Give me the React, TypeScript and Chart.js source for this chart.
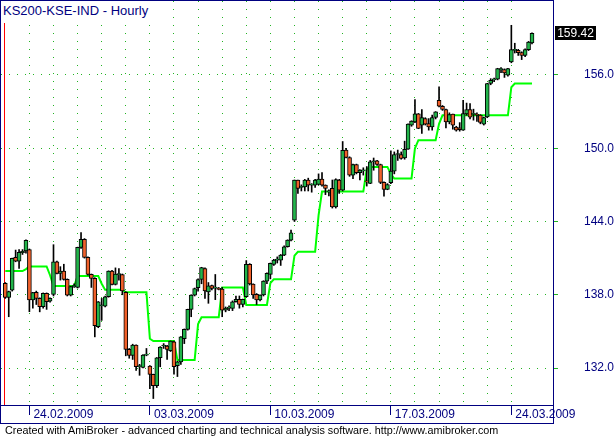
import React, { useEffect, useRef } from 'react';
import { Chart, registerables } from 'chart.js';

Chart.register(...registerables);

const titleText = 'KS200-KSE-IND - Hourly';
const footerText = 'Created with AmiBroker - advanced charting and technical analysis software. http://www.amibroker.com';

const opens = [
  138.93, 137.78, 138.38, 141.06, 140.76, 141.45, 141.58, 141.71, 137.57, 138.19,
  137.7, 137.02, 138.11, 137.48, 138.03, 140.7, 139.75, 139.94, 139.26, 137.97,
  138.66, 138.6, 141.88, 142.53, 141.06, 139.67, 139.34, 135.38, 137.1, 137.07,
  137.84, 139.93, 138.84, 139.65, 139.66, 138.19, 133.52, 133.03, 133.88, 132.1,
  132.05, 133.06, 132.16, 131.48, 130.55, 132.84, 133.8, 133.8, 133.41, 134.15,
  132.2, 132.5, 134.4, 135.16, 136.8, 137.97, 138.57, 139.25, 140.15, 138.24,
  138.76, 138.54, 138.5, 138.46, 136.74, 136.9, 136.89, 137.43, 137.62, 137.21,
  137.84, 140.49, 138.88, 138.03, 137.57, 137.98, 139.12, 139.67, 140.49, 140.84,
  140.84, 141.25, 141.93, 142.48, 144.11, 147.39, 146.8, 146.84, 147.39, 146.98,
  146.98, 147.03, 147.47, 146.98, 146.43, 146.71, 145.2, 147.4, 146.57, 149.84,
  149.24, 147.8, 148.67, 147.99, 148.15, 147.3, 147.12, 148.89, 148.96, 148.67,
  147.2, 146.62, 147.17, 148.12, 149.49, 149.49, 149.2, 149.92, 151.89, 152.16,
  152.82, 151.89, 152.43, 152.02, 151.75, 152.52, 153.93, 153.44, 153.17, 152.16,
  152.79, 151.73, 151.67, 151.48, 152.81, 153.17, 152.78, 152.72, 152.71, 151.97,
  152.57, 155.3, 155.6, 155.65, 156.44, 156.44, 155.98, 157.07, 158.02, 158.02,
  157.83, 157.61, 158.08, 158.62,
];

const highs = [
  139.0, 138.3, 141.0, 141.66, 141.7, 141.7, 142.5, 141.75, 138.2, 138.3,
  137.75, 138.15, 138.15, 137.75, 142.1, 140.75, 140.3, 140.5, 139.3, 138.7,
  138.9, 141.9, 143.1, 142.6, 141.1, 139.7, 139.4, 137.45, 137.7, 137.9,
  139.96, 140.0, 140.2, 140.15, 139.7, 138.25, 133.6, 133.95, 133.9, 132.3,
  133.1, 133.6, 132.2, 131.5, 132.86, 133.75, 134.0, 133.85, 134.22, 134.2,
  132.55, 134.58, 135.2, 136.82, 138.0, 138.55, 139.3, 140.25, 140.2, 139.0,
  138.8, 139.66, 138.6, 138.6, 137.0, 137.1, 137.5, 137.9, 137.9, 137.65,
  140.8, 140.55, 138.9, 138.1, 138.0, 139.15, 139.8, 140.6, 140.9, 141.1,
  141.3, 142.0, 142.5, 143.3, 147.4, 147.4, 147.0, 147.45, 147.55, 147.1,
  147.45, 147.9, 148.0, 147.0, 146.6, 147.4, 147.5, 147.45, 150.55, 150.0,
  149.3, 148.7, 148.7, 148.25, 148.4, 148.5, 149.0, 149.2, 149.0, 148.7,
  147.25, 147.1, 149.79, 149.7, 149.85, 149.7, 150.58, 152.0, 152.25, 153.99,
  152.85, 153.17, 152.5, 152.43, 152.71, 153.0, 155.03, 153.5, 153.2, 152.9,
  152.8, 151.8, 152.1, 153.93, 153.7, 153.66, 153.2, 152.9, 152.75, 152.55,
  155.32, 155.7, 155.75, 156.55, 156.6, 156.5, 156.55, 160.07, 158.6, 158.1,
  157.9, 158.15, 158.75, 159.45,
];

const lows = [
  137.7, 136.2, 138.3, 140.7, 140.16, 141.3, 141.4, 136.61, 136.9, 137.2,
  136.6, 136.9, 136.8, 137.4, 137.9, 139.7, 139.2, 139.2, 137.9, 137.9,
  138.6, 138.55, 141.8, 141.0, 139.6, 138.6, 134.55, 135.3, 135.9, 137.0,
  137.8, 138.8, 138.8, 139.2, 138.0, 133.0, 132.8, 132.7, 131.8, 131.4,
  132.0, 133.0, 130.3, 129.5, 130.4, 132.1, 133.6, 132.7, 133.35, 131.5,
  131.3, 132.3, 134.0, 135.1, 136.2, 137.9, 138.3, 138.9, 137.7, 137.3,
  138.4, 137.6, 138.4, 136.2, 136.6, 136.7, 136.7, 137.4, 136.9, 137.0,
  137.8, 138.8, 137.7, 137.2, 137.5, 137.9, 138.9, 139.3, 140.4, 140.6,
  140.4, 141.2, 141.9, 142.4, 144.0, 146.3, 146.5, 146.5, 146.5, 146.4,
  146.8, 147.0, 146.9, 146.2, 146.1, 145.1, 145.1, 146.3, 146.5, 149.2,
  147.7, 147.5, 147.9, 147.4, 147.8, 146.9, 147.1, 148.2, 148.6, 147.1,
  146.08, 146.6, 147.1, 147.9, 149.0, 149.1, 149.1, 149.9, 151.8, 152.1,
  151.6, 151.21, 151.9, 151.48, 151.48, 152.4, 153.39, 153.1, 151.67, 152.0,
  151.56, 151.4, 151.4, 151.45, 152.7, 152.4, 152.3, 152.2, 152.0, 151.9,
  152.5, 155.2, 155.45, 155.6, 156.2, 155.8, 155.9, 157.0, 157.8, 157.6,
  157.26, 157.5, 158.0, 158.55,
];

const closes = [
  137.78, 138.25, 140.98, 140.76, 141.47, 141.55, 142.45, 137.57, 138.17, 137.7,
  137.02, 138.11, 137.43, 137.7, 140.7, 139.75, 139.94, 139.26, 137.97, 138.66,
  138.7, 141.88, 142.53, 141.06, 139.67, 139.34, 135.47, 137.43, 137.12, 137.84,
  139.94, 138.84, 139.69, 139.68, 138.32, 133.52, 133.03, 133.88, 132.1, 132.2,
  133.06, 133.1, 131.48, 130.55, 132.84, 133.71, 133.82, 133.52, 134.2, 132.1,
  132.5, 134.56, 135.16, 136.8, 137.97, 138.5, 139.25, 140.23, 138.32, 138.73,
  138.51, 138.55, 138.44, 136.74, 136.9, 136.95, 137.43, 137.62, 137.21, 137.62,
  140.49, 138.88, 137.98, 137.57, 137.98, 139.12, 139.75, 140.57, 140.84, 140.86,
  141.25, 141.93, 142.48, 143.08, 147.39, 146.71, 146.82, 147.39, 146.98, 146.99,
  147.39, 147.47, 146.98, 146.71, 146.45, 145.2, 147.43, 146.57, 149.83, 149.24,
  147.8, 148.67, 147.99, 148.21, 148.17, 147.25, 148.89, 148.91, 148.67, 147.2,
  146.62, 147.03, 148.12, 149.49, 149.5, 149.16, 149.92, 151.97, 152.22, 152.82,
  151.62, 152.52, 151.98, 151.75, 152.52, 152.98, 153.44, 153.17, 152.16, 152.76,
  151.89, 151.48, 151.53, 152.84, 153.17, 152.54, 152.8, 152.7, 152.11, 152.51,
  155.3, 155.57, 155.62, 156.52, 156.46, 156.17, 156.52, 158.08, 158.05, 157.83,
  157.61, 158.08, 158.7, 159.42,
];

const stopLine = [
  139.94, 139.94, 139.94, 139.94, 139.94, 139.94, 140.1, 140.32, 140.32, 140.32,
  140.32, 140.32, 140.32, 139.6, 138.71, 138.71, 138.71, 138.71, 138.71, 138.71,
  138.71, 139.53, 139.53, 139.53, 139.53, 139.53, 139.53, 139.53, 138.9, 138.4,
  138.4, 138.4, 138.4, 138.4, 138.4, 138.2, 138.2, 138.2, 138.2, 138.2,
  138.2, 138.2, 134.4, 134.21, 134.21, 134.21, 134.21, 134.21, 134.21, 134.21,
  132.65, 132.65, 132.65, 132.65, 132.65, 132.65, 135.6, 136.15, 136.15, 136.15,
  136.15, 136.15, 136.15, 138.6, 138.6, 138.6, 138.6, 138.6, 138.6, 138.6,
  137.16, 137.16, 137.16, 137.16, 137.16, 137.16, 137.16, 138.95, 139.26, 139.26,
  139.26, 139.26, 139.26, 139.26, 141.2, 141.52, 141.52, 141.52, 141.52, 141.52,
  141.52, 144.5, 146.45, 146.45, 146.45, 146.45, 146.45, 146.45, 146.45, 146.45,
  146.45, 146.45, 146.45, 146.45, 146.45, 148.3, 148.47, 148.47, 148.47, 148.47,
  148.47, 148.47, 147.9, 147.52, 147.52, 147.52, 147.52, 147.52, 147.52, 150.0,
  150.66, 150.66, 150.66, 150.66, 150.66, 150.66, 152.0, 152.7, 152.7, 152.7,
  152.7, 152.7, 152.7, 152.7, 152.7, 152.7, 152.7, 152.7, 152.7, 152.7,
  152.7, 152.7, 152.7, 152.7, 152.7, 152.7, 152.7, 155.0, 155.3, 155.3,
  155.3, 155.3, 155.3, 155.3,
];

const priceTicks = [132, 138, 144, 150, 156];
const dayStartBars = [7, 14, 21, 28, 35, 42, 49, 56, 63, 70, 77, 84, 91, 98, 105, 112, 119, 126, 133, 140, 147];
const dateTickBars = [7, 42, 77, 112, 147];
const dateTickLabels = ['24.02.2009', '03.03.2009', '10.03.2009', '17.03.2009', '24.03.2009'];

const NAVY = '#000080';
const GRID = '#22b422';
const UP = '#22b44a';
const DOWN = '#f0602a';
const LINE = '#00ff00';
const FONT = '"Liberation Sans", Arial, sans-serif';

const framePlugin = {
  id: 'amiFrame',
  beforeDatasetsDraw(chart: any) {
    const { ctx, chartArea: a, scales } = chart;
    ctx.save();
    const xr = Math.round(scales.x.getPixelForValue(0)) - 1;
    ctx.fillStyle = '#ff0000';
    ctx.fillRect(xr, a.top, 1, a.bottom - a.top);
    ctx.restore();
  },
  afterDraw(chart: any) {
    const { ctx, chartArea: a, scales } = chart;
    ctx.save();
    const right = Math.round(a.right);
    const bottom = Math.round(a.bottom);
    const axisBottom = Math.round(scales.x.bottom);
    ctx.fillStyle = NAVY;
    ctx.fillRect(0, 0, 1, axisBottom + 1);
    ctx.fillRect(0, 0, right + 1, 1);
    ctx.fillRect(right, 0, 1, axisBottom + 1);
    ctx.fillRect(0, bottom, right + 1, 1);
    ctx.fillRect(0, axisBottom, right + 1, 1);
    const last = closes[closes.length - 1];
    const py = Math.round(scales.y.getPixelForValue(last));
    ctx.fillStyle = '#000000';
    ctx.fillRect(right + 2, py - 7, 41, 14);
    ctx.fillStyle = '#ffffff';
    ctx.font = '12px ' + FONT;
    ctx.textAlign = 'center';
    ctx.textBaseline = 'middle';
    ctx.fillText(last.toFixed(2), right + 2 + 20.5, py + 0.5);
    ctx.restore();
  },
};

export default function App() {
  const ref = useRef<HTMLCanvasElement>(null);
  useEffect(() => {
    const idx = closes.map((_, i) => i);
    const chart = new Chart(ref.current as HTMLCanvasElement, {
      type: 'bar',
      data: {
        datasets: [
          {
            type: 'line',
            data: idx.map((i) => ({ x: i, y: stopLine[i] })),
            borderColor: LINE,
            borderWidth: 2,
            pointRadius: 0,
            tension: 0,
            order: 3,
          } as any,
          {
            type: 'bar',
            data: idx.map((i) => ({ x: i, y: [lows[i], highs[i]] })),
            backgroundColor: '#000000',
            barThickness: 1,
            grouped: false,
            order: 2,
          } as any,
          {
            type: 'bar',
            data: idx.map((i) => ({
              x: i,
              y: [Math.min(opens[i], closes[i]), Math.max(opens[i], closes[i])],
            })),
            backgroundColor: idx.map((i) => (closes[i] >= opens[i] ? UP : DOWN)),
            borderColor: '#000000',
            borderWidth: 1,
            borderSkipped: false,
            barThickness: 4,
            minBarLength: 1,
            grouped: false,
            order: 1,
          } as any,
        ],
      },
      options: {
        responsive: false,
        animation: false,
        devicePixelRatio: 1,
        events: [],
        layout: { padding: { left: 1, top: 1, right: 0, bottom: 14 } },
        plugins: {
          legend: { display: false },
          tooltip: { enabled: false },
          title: { display: false },
        },
        scales: {
          x: {
            type: 'linear',
            min: -1.25,
            max: 159.1,
            offset: false,
            afterBuildTicks: (s: any) => {
              s.ticks = dayStartBars.map((v) => ({ value: v }));
            },
            afterFit: (s: any) => {
              s.height = 18;
              s.paddingLeft = 0;
              s.paddingRight = 0;
            },
            grid: {
              offset: false,
              color: GRID,
              lineWidth: 1,
              drawTicks: true,
              tickLength: 10,
              tickColor: (c: any) =>
                c.tick && dateTickBars.includes(c.tick.value) ? NAVY : 'rgba(0,0,0,0)',
            },
            border: { display: false, dash: [1, 7] },
            ticks: {
              autoSkip: false,
              maxRotation: 0,
              minRotation: 0,
              align: 'start',
              labelOffset: 4,
              padding: -8,
              color: NAVY,
              font: { family: FONT, size: 12 },
              callback: (v: any) => {
                const k = dateTickBars.indexOf(Number(v));
                return k >= 0 ? dateTickLabels[k] : '';
              },
            },
          },
          y: {
            type: 'linear',
            position: 'right',
            min: 128.97,
            max: 162.06,
            afterBuildTicks: (s: any) => {
              s.ticks = priceTicks.map((v) => ({ value: v }));
            },
            afterFit: (s: any) => {
              s.width = 61;
              s.paddingTop = 0;
              s.paddingBottom = 0;
            },
            grid: {
              color: GRID,
              lineWidth: 1,
              drawTicks: true,
              tickLength: 5,
              tickColor: GRID,
            },
            border: { display: false, dash: [1, 7] },
            ticks: {
              crossAlign: 'far',
              padding: 19,
              color: NAVY,
              font: { family: FONT, size: 12 },
              callback: (v: any) => Number(v).toFixed(1),
            },
          },
        },
      } as any,
      plugins: [framePlugin],
    });
    return () => chart.destroy();
  }, []);

  return (
    <div style={{ position: 'absolute', left: 0, top: 0, width: 614, height: 437, background: '#ffffff', overflow: 'hidden' }}>
      <canvas ref={ref} width={614} height={437} style={{ position: 'absolute', left: 0, top: 0, width: 614, height: 437 }} />
      <div
        style={{
          position: 'absolute',
          left: 1,
          top: 1,
          padding: '2px 3px 5px 2px',
          background: '#ffffff',
          color: NAVY,
          font: '13px ' + FONT,
          lineHeight: '15px',
          whiteSpace: 'nowrap',
        }}
      >
        {titleText}
      </div>
      <div
        style={{
          position: 'absolute',
          left: 5,
          top: 424,
          color: '#000000',
          font: '10.8px ' + FONT,
          lineHeight: '13px',
          whiteSpace: 'nowrap',
        }}
      >
        {footerText}
      </div>
    </div>
  );
}
